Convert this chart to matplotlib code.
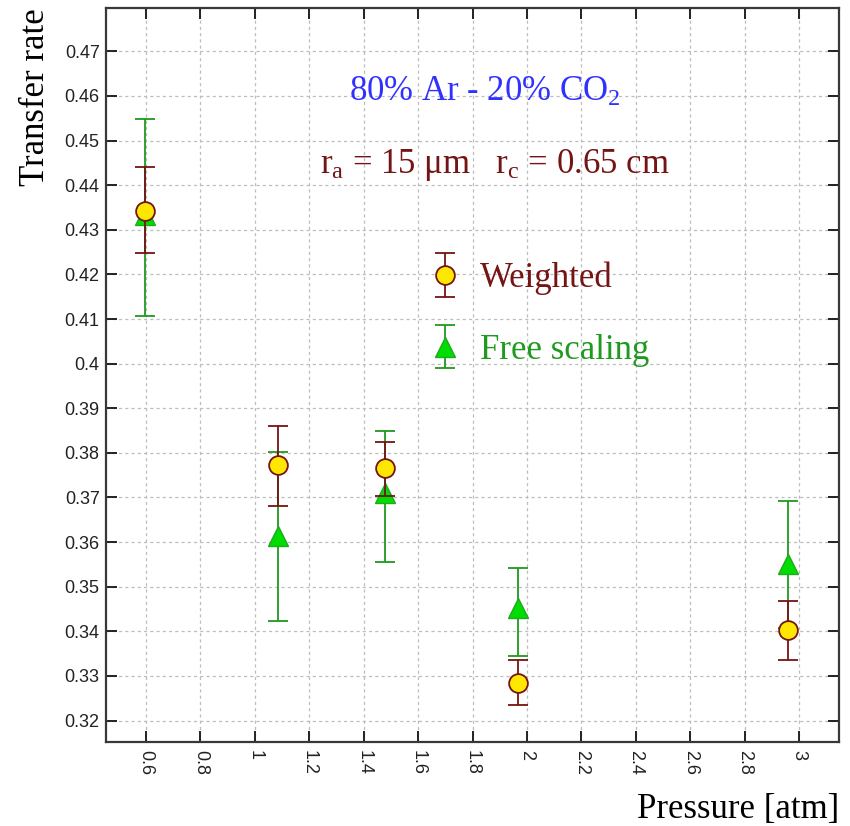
import matplotlib.pyplot as plt
from matplotlib.ticker import FixedLocator, FuncFormatter
from matplotlib.legend_handler import HandlerErrorbar

plt.rcParams['font.family'] = ['Liberation Serif', 'DejaVu Serif']
plt.rcParams['mathtext.fontset'] = 'custom'
plt.rcParams['mathtext.rm'] = 'Liberation Serif'
plt.rcParams['mathtext.it'] = 'Liberation Serif'

# Pressure points and fitted transfer rates
pressure_w = [0.596, 1.086, 1.480, 1.968, 2.960]
rate_w = [0.4342, 0.3772, 0.3766, 0.3285, 0.3402]
err_w_lo = [0.0095, 0.0090, 0.0062, 0.0049, 0.0067]
err_w_hi = [0.0099, 0.0089, 0.0058, 0.0050, 0.0065]

pressure_f = [0.596, 1.086, 1.480, 1.968, 2.960]
rate_f = [0.4332, 0.3614, 0.3710, 0.3453, 0.3552]
err_f_lo = [0.0225, 0.0190, 0.0155, 0.0108, 0.0145]
err_f_hi = [0.0217, 0.0189, 0.0140, 0.0090, 0.0139]

x_ticks = [0.6, 0.8, 1.0, 1.2, 1.4, 1.6, 1.8, 2.0, 2.2, 2.4, 2.6, 2.8, 3.0]
y_ticks = [0.32, 0.33, 0.34, 0.35, 0.36, 0.37, 0.38, 0.39, 0.40,
           0.41, 0.42, 0.43, 0.44, 0.45, 0.46, 0.47]

red = '#741414'
green = '#1f9a1f'

fig = plt.figure(figsize=(8.5, 8.26), dpi=100)
ax = fig.add_axes([0.1247, 0.1017, 0.8624, 0.8886])

ax.errorbar(pressure_f, rate_f, yerr=[err_f_lo, err_f_hi], fmt='^', color=green,
            ecolor=green, markerfacecolor='#00dd00', markeredgecolor='#1faa1f',
            markersize=15, capsize=7, capthick=1.3, elinewidth=1.3,
            label='Free scaling', zorder=3)
ax.errorbar(pressure_w, rate_w, yerr=[err_w_lo, err_w_hi], fmt='o', color=red,
            ecolor=red, markerfacecolor='#ffe800', markeredgecolor=red,
            markeredgewidth=1.3, markersize=13.5, capsize=7, capthick=1.3,
            elinewidth=1.3, label='Weighted', zorder=4)

ax.set_xlim(0.453, 3.147)
ax.set_ylim(0.3152, 0.4797)
ax.xaxis.set_major_locator(FixedLocator(x_ticks))
ax.yaxis.set_major_locator(FixedLocator(y_ticks))
fmt = FuncFormatter(lambda v, pos: '%g' % round(v, 2))
ax.xaxis.set_major_formatter(fmt)
ax.yaxis.set_major_formatter(fmt)
ax.tick_params(direction='in', length=8, width=1.4, top=True, right=True,
               labelsize=13, colors='#222222', pad=4.5)
ax.tick_params(axis='x', labelrotation=-90, pad=6)
for lbl in ax.get_xticklabels() + ax.get_yticklabels():
    lbl.set_family('Liberation Sans')
for s in ax.spines.values():
    s.set_linewidth(1.6)
    s.set_color('#383838')
ax.grid(True, color='#bdbdbd', linestyle=(0, (2.5, 2.5)), linewidth=0.9)
ax.set_axisbelow(True)

ax.set_ylabel('Transfer rate', fontsize=25)
ax.yaxis.set_label_coords(-0.074, 0.879)
ax.set_xlabel('Pressure [atm]', fontsize=25, loc='right')
ax.xaxis.set_label_coords(1.0, -0.069)

ax.text(0.517, 0.885, r'80% Ar - 20% CO$_2$', transform=ax.transAxes,
        ha='center', va='center', fontsize=25, color='#3030ff')
ax.text(0.531, 0.786, r'r$_\mathrm{a}$ = 15 μm   r$_\mathrm{c}$ = 0.65 cm',
        transform=ax.transAxes, ha='center', va='center', fontsize=25,
        color=red)

handles, labels = ax.get_legend_handles_labels()
ax.legend(handles[::-1], labels[::-1], loc='upper left',
          bbox_to_anchor=(0.434, 0.654), frameon=False, fontsize=25,
          borderpad=0, borderaxespad=0, labelspacing=1.1,
          handlelength=1.2, handletextpad=0.4, labelcolor=[red, green],
          handler_map={type(handles[0]): HandlerErrorbar(yerr_size=0.63)})

fig.savefig('out.png', dpi=100, facecolor='white')
